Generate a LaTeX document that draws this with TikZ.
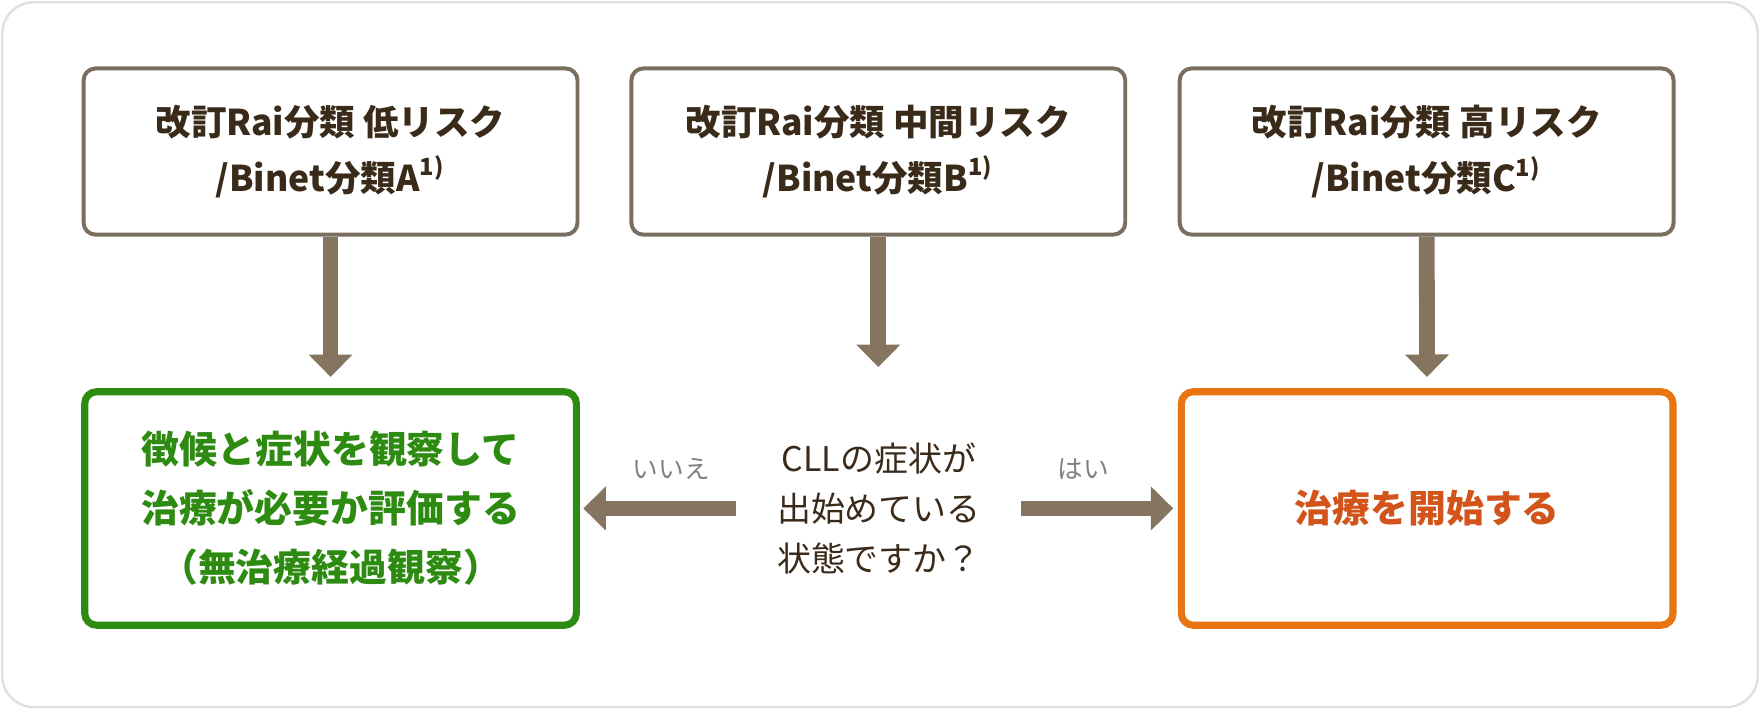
\documentclass[tikz,border=0pt]{standalone}
\usepackage{fontspec}
\setmainfont{Noto Sans CJK JP}
\usetikzlibrary{arrows.meta,positioning}
\definecolor{frame}{HTML}{7A6E60}
\definecolor{shaft}{HTML}{857460}
\definecolor{ink}{HTML}{3A2A1A}
\definecolor{grn}{HTML}{2E8B12}
\definecolor{org}{HTML}{E87511}
\definecolor{orgtxt}{HTML}{D2541A}
\tikzset{
  risk/.style = {draw=frame, line width=1pt, rounded corners=3pt, minimum width=4.4cm, minimum height=1.48cm, align=center, text=ink, font=\fontsize{9}{14}\selectfont\bfseries},
  result/.style = {line width=1.8pt, rounded corners=3pt, minimum width=4.38cm, minimum height=2.08cm, align=center, font=\fontsize{9.6}{15}\selectfont\bfseries},
  flow/.style = {draw=shaft, line width=4pt, -{Triangle[width=0.38cm,length=0.2cm]}},
  ans/.style = {text=gray, font=\fontsize{6.5}{8}\selectfont}
}
\begin{document}
\begin{tikzpicture}
\useasboundingbox (0,0) rectangle (15.68,6.32);
\filldraw[draw=black!12, fill=white, line width=0.6pt, rounded corners=8pt] (0.02,0.02) rectangle (15.66,6.30);
%Risk groups
\node[risk] (low) at (2.945,4.97) {改訂Rai分類 低リスク\\/Binet分類A\textsuperscript{1)}};
\node[risk] (mid) at (7.825,4.97) {改訂Rai分類 中間リスク\\/Binet分類B\textsuperscript{1)}};
\node[risk] (high) at (12.71,4.97) {改訂Rai分類 高リスク\\/Binet分類C\textsuperscript{1)}};
%Outcomes
\node[result, draw=grn, text=grn] (watch) at (2.945,1.79) {徴候と症状を観察して\\治療が必要か評価する\\（無治療経過観察）};
\node[result, draw=org, text=orgtxt] (treat) at (12.715,1.79) {治療を開始する};
\node[align=center, text=ink, inner sep=0pt, font=\fontsize{8.6}{12.8}\selectfont] (ask) at (7.83,1.79) {CLLの症状が\\出始めている\\状態ですか？};
%Arrows
\draw[flow, shorten >=0.1cm] (low) -- (watch);
\draw[flow, shorten >=0.1cm] (mid.south) -- (7.825,2.95);
\draw[flow, shorten >=0.1cm] (high) -- (treat);
\draw[flow, shorten <=0.36cm, shorten >=0.03cm] (ask.west) -- (watch.east);
\draw[flow, shorten <=0.35cm, shorten >=0.04cm] (ask.east) -- (treat.west);
\node[ans] (no) at (5.98,2.14) {いいえ};
\node[ans] (yes) at (9.65,2.14) {はい};
\end{tikzpicture}
\end{document}
